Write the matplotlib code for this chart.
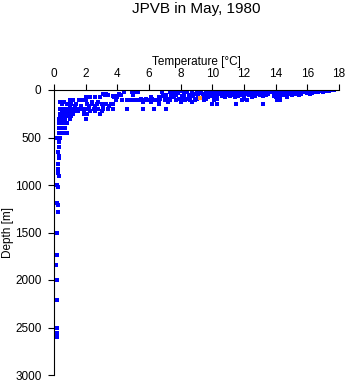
import numpy as np
import matplotlib
matplotlib.use("Agg")
import matplotlib.pyplot as plt

plt.rcParams['font.family'] = ['Liberation Sans', 'DejaVu Sans']

# temperature readings (deg C) grouped by observed depth (m)
t_d0 = [9.9, 10.3, 10.8, 11.3, 11.8, 12.3, 12.7, 13.1, 13.5, 14.0, 14.4, 14.8, 15.2, 15.6, 16.0, 16.3, 16.6, 16.9, 17.2, 17.5, 17.7]
t_d10 = [8.0, 8.3, 9.6, 10.1, 10.6, 11.1, 11.6, 12.0, 12.5, 13.0, 13.4, 13.8, 14.3, 14.7, 15.1, 15.5, 15.9, 16.2, 16.5, 16.8, 17.1, 17.4]
t_d20 = [4.4, 6.8, 7.3, 7.6, 9.3, 9.8, 10.4, 10.9, 11.4, 11.9, 12.4, 12.8, 13.3, 13.7, 14.1, 14.5, 15.0, 15.4, 15.8, 16.1, 16.4, 16.7, 17.0]
t_d25 = [4.9, 5.1, 5.3, 8.4, 9.0, 10.0, 11.0, 12.2, 13.6, 14.9, 15.7, 16.5]
t_d30 = [7.8, 8.7, 9.2, 9.7, 10.2, 10.7, 11.2, 11.7, 12.6, 13.2, 13.9, 14.2, 14.6, 15.3, 16.0, 16.3]
t_d40 = [3.1, 3.3, 4.1, 7.5, 8.2, 8.9, 9.5, 10.1, 10.5, 11.5, 12.1, 12.9, 13.5, 14.0, 14.4, 14.8, 15.2, 15.6, 16.2]
t_d50 = [3.2, 3.4, 4.2, 5.0, 7.1, 7.7, 8.5, 9.1, 9.6, 10.3, 10.9, 11.3, 11.8, 12.3, 13.0, 13.4, 14.1, 14.5, 15.0, 15.5]
t_d60 = [3.7, 3.9, 6.9, 7.4, 8.1, 8.8, 9.4, 9.9, 10.6, 11.1, 11.6, 12.0, 12.7, 13.2, 13.9, 14.3]
t_d75 = [2.0, 2.3, 2.6, 2.9, 3.8, 4.0, 6.1, 6.6, 7.0, 7.6, 8.2, 8.6, 9.7, 10.2, 10.8, 11.4, 12.5, 14.0, 14.7]
t_d90 = [5.5, 5.8, 6.2, 6.7, 7.2, 7.9, 8.4, 9.0, 9.6, 10.3, 12.0]
t_d100 = [1.0, 1.2, 1.6, 1.8, 2.0, 3.9, 4.8, 5.0, 5.4, 5.9, 6.4, 7.0, 7.7, 8.3, 8.9, 9.5, 10.1, 11.9, 12.2, 14.1, 14.3]
t_d110 = [4.3, 4.6, 5.2, 5.7, 6.0, 6.5, 7.3, 8.0, 8.6]
t_d125 = [0.4, 0.6, 2.4, 2.8, 5.6, 6.1, 6.6, 7.2, 8.0, 8.7]
t_d150 = [0.5, 0.8, 1.1, 1.4, 2.1, 2.4, 2.7, 3.0, 3.3, 3.6, 3.7, 6.6, 10.0, 10.3, 11.5, 13.2]
t_d165 = [1.0, 1.3, 1.7, 2.2, 2.6, 3.1, 3.5]
t_d200 = [0.4, 0.6, 0.8, 1.0, 1.2, 1.4, 1.6, 1.8, 2.0, 2.2, 2.5, 2.8, 3.1, 3.4, 3.7, 4.6, 5.6, 6.3, 7.1]
t_d225 = [0.5, 0.7, 0.9, 1.1, 1.3, 1.5, 1.9, 2.3, 2.6, 3.0]
t_d250 = [0.4, 0.6, 0.8, 1.0, 1.2, 1.9, 2.1, 2.9]
t_d275 = [0.4, 0.6, 0.9, 1.1]
t_d300 = [0.3, 0.5, 0.7, 1.0, 2.0]
t_d350 = [0.3, 0.5, 0.6, 0.8]
t_d400 = [0.3, 0.4, 0.6, 0.7]
t_d450 = [0.3, 0.5, 0.6, 0.8]
t_d500 = [0.2, 0.3, 0.4]

levels = [0, 10, 20, 25, 30, 40, 50, 60, 75, 90, 100, 110, 125, 150, 165,
          200, 225, 250, 275, 300, 350, 400, 450, 500]
level_temps = [t_d0, t_d10, t_d20, t_d25, t_d30, t_d40, t_d50, t_d60, t_d75,
               t_d90, t_d100, t_d110, t_d125, t_d150, t_d165, t_d200, t_d225,
               t_d250, t_d275, t_d300, t_d350, t_d400, t_d450, t_d500]

# deep, sparse observations
deep_depth = [550, 600, 650, 690, 720, 780, 830, 870, 900, 1000, 1020, 1190, 1210,
              1280, 1500, 1740, 1840, 2000, 2210, 2500, 2560, 2600]
deep_temp = [0.3, 0.3, 0.25, 0.3, 0.3, 0.25, 0.25, 0.25, 0.3, 0.2, 0.25, 0.2, 0.25,
             0.25, 0.2, 0.2, 0.15, 0.2, 0.2, 0.2, 0.2, 0.2]

# single highlighted observation
hl_temp = [9.2]
hl_depth = [80]

temp = []
depth = []
for d, ts in zip(levels, level_temps):
    temp += ts
    depth += [d] * len(ts)
temp += deep_temp
depth += deep_depth

fig = plt.figure(figsize=(3.48, 3.84), dpi=100)
ax = fig.add_axes([54 / 348, 1 - 375 / 384, 285 / 348, 285 / 384])

ax.plot(temp, depth, 's', color='#0000ff', markersize=2.2, markeredgewidth=0)
ax.plot(hl_temp, hl_depth, 's', color='#ff9933', markersize=2.2, markeredgewidth=0)

ax.set_xlim(0, 18)
ax.set_ylim(3000, 0)
ax.set_xticks(np.arange(0, 19, 2))
ax.set_yticks(np.arange(0, 3001, 500))

ax.xaxis.tick_top()
ax.spines['right'].set_visible(False)
ax.spines['bottom'].set_visible(False)
ax.spines['left'].set_linewidth(0.8)
ax.spines['top'].set_linewidth(0.8)
ax.tick_params(axis='both', length=4, width=0.8, labelsize=8.5, color='black')
ax.tick_params(axis='x', pad=3)
ax.tick_params(axis='y', pad=5)

fig.text(196.5 / 348, 1 - 12.7 / 384, 'JPVB in May, 1980', ha='center', va='baseline', fontsize=11)
fig.text(196.5 / 348, 1 - 65 / 384, 'Temperature [°C]', ha='center', va='baseline', fontsize=8.5)
fig.text(8 / 348, 1 - 232.5 / 384, 'Depth [m]', ha='center', va='center', rotation=90, fontsize=8.5)

fig.savefig('out.png', dpi=100)
